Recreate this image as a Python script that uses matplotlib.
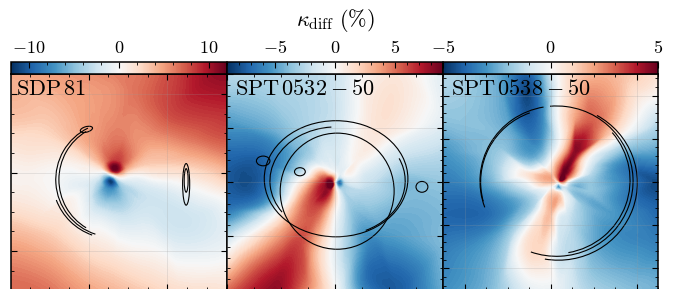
import numpy as np
import matplotlib
matplotlib.use('Agg')
import matplotlib.pyplot as plt
import matplotlib.tri as mtri
from matplotlib import cm, colors
from matplotlib.patches import Arc, Ellipse
from matplotlib.ticker import MultipleLocator, FuncFormatter
#--------------------------------
#Fuentes tipo LaTeX
plt.rcParams['mathtext.fontset'] = 'cm'
plt.rcParams['font.family'] = 'serif'
plt.rcParams['font.serif'] = ['cmr10', 'DejaVu Serif']
#--------------------------------
#Datos: kappa_diff (%) leido en anillos alrededor del centro (angulos 0..360, antihorario)
#SDP 81
sdp_lim = [(-0.99, 1.76), (-1.495, 1.255)]
sdp_centro = (0.31, -0.03)
sdp_c = 0.
sdp_radios = [0.06, 0.2, 0.55, 1.1]
sdp_a0 = [3, 10, 11, 5, -4, -10, -10, -3]
sdp_a1 = [0.5, 5, 8, 8, 6, 2, -1, -4, -7, -7, -5, -2.5]
sdp_a2 = [1, 3, 4, 5, 5.5, 6, 6, 5.5, 5, 4, 2, 0.5, -0.5, -1, 0, -0.5, -1.5, -1.5, -2, -2.5, -2.5, -2.5, -2.5, -1.5]
sdp_a3 = [2, 5, 7, 8, 7.5, 6.5, 5.5, 5, 4.5, 3.5, 2.5, 1.5, 0.5, 1, 2, 3, 3, 2.5, 2, 1, 0, -2, -2.5, -1]
sdp_borde = [3.5, 7, 9, 10.5, 8, 6.5, 6, 5.5, 5, 4.5, 3.5, 1.5, 0.5, 1.5, 4, 6.5, 6.5, 5, 4, 3, 2, 1.5, -1, -0.3]
sdp_esquinas = [11, 4.5, 7, 1.5]  #TR, TL, BL, BR

#SPT 0532-50
s32_lim = [(-2., 2.), (-2., 2.)]
s32_centro = (0., 0.)
s32_c = 0.
s32_radios = [0.06, 0.2, 0.6, 1.3]
s32_a0 = [-7, -3, 2, 6, 8.5, 8.5, 1, -5]
s32_a1 = [-2, -0.5, -1, -0.5, 1, 5, 7, 8, 7, 2, -2, -3]
s32_a2 = [-2, -1.5, -0.5, 0.5, 0, -1, -1.5, -1.5, -2, -2.5, -2, -1.5, 1, 3, 5, 6, 5.5, 3, 0, -2, -3.5, -3.5, -3, -2.5]
s32_a3 = [-4, -2.5, -1, 1, 1, -0.5, -2, -2.5, -3, -4, -6, -7, -7, -5.5, 0, 4, 6, 2.5, -1, -4, -6, -5, -4.5, -4]
s32_borde = [-3.5, -2.5, -1, -1, 1, 0, -2, -2.5, -2.5, -2.5, -5, -7, -7.5, -6.5, -1, 5, 8, 4.5, 0, -6, -7.5, -4.5, -4, -4]
s32_esquinas = [-1, -2.5, 5, -4]

#SPT 0538-50
s38_lim = [(-2.5, 2.5), (-2.5, 2.5)]
s38_centro = (0.185, -0.01)
s38_c = 0.
s38_radios = [0.08, 0.25, 0.8, 1.6]
s38_a0 = [2, 5, 3, 1, 1, -1, -3, -1]
s38_a1 = [-1, 3, 5, 3, 1.5, 2, 1.5, 0, 1, 1, -0.5, -1.5]
s38_a2 = [-2, -1.5, -0.5, 1, 4.5, 2, 0, -1.5, -2.5, -2.5, -1.5, 0.5, -0.5, -1.5, -2, -1.5, 0.5, 1.5, -0.5, -1, -1.5, -2, -2.5, -2]
s38_a3 = [-3.5, -3.5, -1.5, 1.5, 3, 2, 0, -3.5, -4, -2.5, -2, -2, -2.5, -3.5, -3.5, -2, 0.5, 1, -1, -1.5, -2.5, -3, -3, -3.5]
s38_borde = [-4.5, -3, -1.5, 0.5, 1.5, 1.5, 0, -4, -2.5, -1.5, -2, -3, -3.5, -4, -3.5, -3, -2, -0.5, -0.5, -1.5, -2, -2.5, -3.5, -4]
s38_esquinas = [0.3, -1.5, -3, -2.5]

#Contornos de las imagenes (x, y, ancho, alto, theta1, theta2)
sdp_arcos = [(0.31, -0.09, 1.46, 1.46, 116, 252), (0.32, -0.09, 1.40, 1.42, 120, 240),
             (0.30, -0.09, 1.52, 1.50, 200, 250)]
sdp_manchas = [(-0.03, 0.55, 0.16, 0.07, 15), (1.24, -0.15, 0.09, 0.53, 0), (1.24, -0.1, 0.05, 0.3, 0)]
s32_arcos = [(0.04, -0.17, 2.11, 2.15, 0, 360), (0.02, 0.06, 2.66, 2.15, 0, 360),
             (0.02, 0.02, 2.45, 2.0, 95, 210), (0.04, 0.02, 2.52, 2.02, 300, 380)]
s32_manchas = [(-0.65, 0.19, 0.2, 0.15, 0), (1.61, -0.09, 0.22, 0.2, 0), (-1.33, 0.39, 0.25, 0.18, 0)]
s38_arcos = [(0.14, 0.02, 3.56, 3.48, 100, 200), (0.10, 0.0, 3.45, 3.40, 110, 195),
             (0.14, 0.02, 3.56, 3.48, 250, 430), (0.18, -0.02, 3.68, 3.58, 260, 420),
             (0.12, 0.04, 3.46, 3.40, 280, 400), (0.14, 0.02, 3.56, 3.48, 70, 95)]
s38_manchas = []

nombres = [r'$\mathrm{SDP\,81}$', r'$\mathrm{SPT\,0532}-50$', r'$\mathrm{SPT\,0538}-50$']
vmaxs = [12., 9., 5.]
cb_ticks = [[-10, 0, 10], [-5, 0, 5], [-5, 0, 5]]
cb_minor = [2., 1., 1.]
#--------------------------------
def campo(ax, centro, c0, radios, anillos, borde, esquinas, lim, vmax):
    cx, cy = centro
    xs = [cx]; ys = [cy]; vs = [c0]
    for r, vals in zip(radios, anillos):
        th = np.radians(np.arange(len(vals))*360./len(vals))
        xs += list(cx + r*np.cos(th)); ys += list(cy + r*np.sin(th)); vs += list(vals)
    (x0, x1), (y0, y1) = lim
    th = np.radians(np.arange(len(borde))*360./len(borde))
    co, si = np.cos(th), np.sin(th)
    with np.errstate(divide='ignore', invalid='ignore'):
        tx = np.where(co > 1e-9, (x1-cx)/co, np.where(co < -1e-9, (x0-cx)/co, np.inf))
        ty = np.where(si > 1e-9, (y1-cy)/si, np.where(si < -1e-9, (y0-cy)/si, np.inf))
    t = np.minimum(tx, ty)
    xs += list(cx + t*co); ys += list(cy + t*si); vs += list(borde)
    for (ex, ey), v in zip([(x1, y1), (x0, y1), (x0, y0), (x1, y0)], esquinas):
        xs.append(cx + 1.1*(ex-cx)); ys.append(cy + 1.1*(ey-cy)); vs.append(v)
    tr = mtri.Triangulation(xs, ys)
    vs = np.array(vs, dtype=float)
    interp = mtri.CubicTriInterpolator(tr, vs, kind='geom')
    tr2, vs2 = mtri.UniformTriRefiner(tr).refine_field(vs, triinterpolator=interp, subdiv=3)
    ax.tricontourf(tr2, vs2, levels=np.linspace(-vmax, vmax, 121), cmap='RdBu_r', extend='both')
#--------------------------------
fig = plt.figure(figsize=(6.74, 2.89), dpi=100)
W, H = 674., 289.
izq = [11, 227, 443]
anchos = [216, 216, 215]
paneles = [(sdp_centro, sdp_c, sdp_radios, [sdp_a0, sdp_a1, sdp_a2, sdp_a3], sdp_borde, sdp_esquinas, sdp_lim, sdp_arcos, sdp_manchas),
           (s32_centro, s32_c, s32_radios, [s32_a0, s32_a1, s32_a2, s32_a3], s32_borde, s32_esquinas, s32_lim, s32_arcos, s32_manchas),
           (s38_centro, s38_c, s38_radios, [s38_a0, s38_a1, s38_a2, s38_a3], s38_borde, s38_esquinas, s38_lim, s38_arcos, s38_manchas)]
mayores = [(1., 1.), (2., 1.), (2., 1.)]
menores = [(0.25, 0.25), (0.5, 0.2), (0.5, 0.2)]

for i in range(3):
    centro, c0, radios, anillos, borde, esquinas, lim, arcos, manchas = paneles[i]
    ax = fig.add_axes([izq[i]/W, -1./H, anchos[i]/W, 216./H])
    campo(ax, centro, c0, radios, anillos, borde, esquinas, lim, vmaxs[i])
    for (x, y, w, h, t1, t2) in arcos:
        ax.add_patch(Arc((x, y), w, h, theta1=t1, theta2=t2, color='black', lw=0.8))
    for (x, y, w, h, ang) in manchas:
        ax.add_patch(Ellipse((x, y), w, h, angle=ang, fill=False, color='black', lw=0.8))
    ax.set_xlim(lim[0]); ax.set_ylim(lim[1])
    ax.xaxis.set_major_locator(MultipleLocator(mayores[i][0]))
    ax.yaxis.set_major_locator(MultipleLocator(mayores[i][1]))
    ax.xaxis.set_minor_locator(MultipleLocator(menores[i][0]))
    ax.yaxis.set_minor_locator(MultipleLocator(menores[i][1]))
    ax.tick_params(which='both', direction='in', top=True, right=True, labelbottom=False, labelleft=False)
    ax.tick_params(which='major', length=4, width=0.8)
    ax.tick_params(which='minor', length=2.2, width=0.6)
    ax.set_axisbelow(False)
    ax.grid(True, which='major', color='0.6', lw=0.6, alpha=0.25)
    for s in ax.spines.values():
        s.set_linewidth(1.1)
    ax.text(0.035 if i else 0.025, 0.975, nombres[i], transform=ax.transAxes, ha='left', va='top', fontsize=16)

    #barra de color
    cax = fig.add_axes([izq[i]/W, 215./H, anchos[i]/W, 12./H])
    sm = cm.ScalarMappable(norm=colors.Normalize(-vmaxs[i], vmaxs[i]), cmap='RdBu_r')
    cb = fig.colorbar(sm, cax=cax, orientation='horizontal')
    cb.set_ticks(cb_ticks[i])
    cax.xaxis.set_minor_locator(MultipleLocator(cb_minor[i]))
    cax.xaxis.set_ticks_position('top')
    cax.xaxis.set_major_formatter(FuncFormatter(lambda v, p: r'$%g$' % v))
    cax.tick_params(which='both', direction='in', top=True, bottom=False, labeltop=True, labelbottom=False, labelsize=13, pad=4)
    cax.tick_params(which='major', length=4, width=0.8)
    cax.tick_params(which='minor', length=2.2, width=0.6)
    cb.outline.set_linewidth(1.1)

fig.text(335./W, 1-20./H, r'$\kappa_{\rm diff}\ (\%)$', ha='center', va='center', fontsize=16)
fig.savefig('out.png', dpi=100)
